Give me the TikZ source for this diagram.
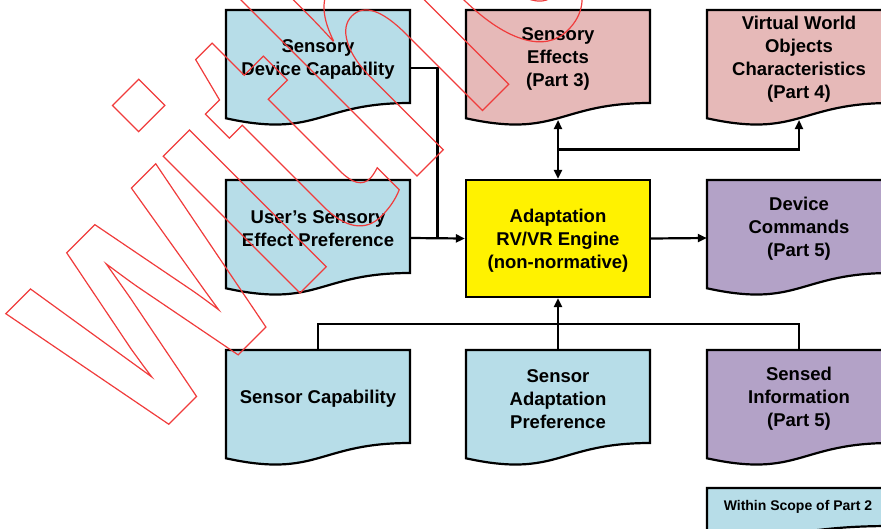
\documentclass[tikz,border=0pt]{standalone}
\usepackage{fontspec}
\setmainfont{Liberation Sans}
\newfontfamily\stampfont[FakeStretch=0.74]{Liberation Sans}
\usetikzlibrary{arrows.meta,calc}

\definecolor{docblue}{HTML}{B7DDE8}
\definecolor{docpink}{HTML}{E6B9B8}
\definecolor{docpurple}{HTML}{B3A2C7}
\definecolor{stampred}{HTML}{F03C3C}

\tikzset{
  docline/.style={draw=black, line width=2.2pt},
  box/.style={minimum width=184pt, minimum height=116pt, inner sep=0pt},
  lbl/.style={font=\bfseries\fontsize{18.5}{23}\selectfont, align=center, inner sep=0pt},
  wire/.style={line width=2.2pt},
  feed/.style={wire, -{Triangle[length=9pt, width=8pt]}},
  both/.style={wire, {Triangle[length=9pt, width=8pt]}-{Triangle[length=9pt, width=8pt]}},
  stamp/.style={text=stampred, font=\stampfont\bfseries\fontsize{366}{366}\selectfont, inner sep=0pt}
}

% outline text (stroke only)
\newcommand{\outlined}[1]{\special{pdf:literal direct 1 Tr 1.2 w}#1\special{pdf:literal direct 0 Tr}}

% document shape: name, left, top, fill, text
\newcommand{\docnode}[5]{%
  \filldraw[docline, fill=#4] (#2,#3) -- ({#2+184},#3) -- ({#2+184},{#3+93})
    .. controls ({#2+92},{#3+93}) and ({#2+92},{#3+128.5}) .. (#2,{#3+108.3}) -- cycle;
  \node[box] (#1) at ({#2+92},{#3+58}) {};
  \node[lbl] (#1-t) at ({#2+92},{#3+49}) {#5};
  \coordinate (#1-w) at ({#2+92},{#3+110});
}

\begin{document}
\begin{tikzpicture}[x=1pt, y=-1pt]
  \useasboundingbox (0,0) rectangle (881,528);

  \docnode{sdc}{226}{10}{docblue}{Sensory\\Device Capability}
  \docnode{eff}{466}{10}{docpink}{Sensory\\Effects\\(Part 3)}
  \docnode{vwo}{707}{10}{docpink}{Virtual World\\Objects\\Characteristics\\(Part 4)}
  \docnode{usp}{226}{180}{docblue}{User’s Sensory\\Effect Preference}
  \docnode{cmd}{707}{180}{docpurple}{Device\\Commands\\(Part 5)}
  \docnode{scap}{226}{350}{docblue}{Sensor Capability}
  \docnode{sap}{466}{350}{docblue}{Sensor\\Adaptation\\Preference}
  \docnode{sinf}{707}{350}{docpurple}{Sensed\\Information\\(Part 5)}

  \node[docline, fill=yellow, minimum width=184pt, minimum height=117pt] (engine) at (558,238.5) {};
  \node[lbl] (engine-t) at (558,241) {Adaptation\\RV/VR Engine\\(non-normative)};

  % legend
  \filldraw[docline, fill=docblue] (707,488) -- (891,488) -- (891,526)
    .. controls (799,526) and (799,540.5) .. (707,532.3) -- cycle;
  \node[font=\bfseries\fontsize{14}{16}\selectfont, inner sep=0pt] (key) at (798,507) {Within Scope of Part 2};

  % connectors
  \draw[wire] (sdc.east) -| ($(usp.east)!0.5!(engine.west)$);
  \draw[feed] (usp.east) -- (engine.west);
  \draw[both] (engine.north) -- (eff-w);
  \draw[feed] ($(engine.north)!0.5!(eff-w)$) -| (vwo-w);
  \draw[feed] (engine.east) -- (cmd.west);
  \draw[feed] (sap.north) -- (engine.south);
  \draw[wire] (scap.north) |- ($(sap.north)!0.5!(engine.south)$) -| (sinf.north);

  % watermark
  \node[stamp, rotate=45, anchor=base west] (mark) at (143,450) {\outlined{w\kern-8pt ithdrawn}};
\end{tikzpicture}
\end{document}
